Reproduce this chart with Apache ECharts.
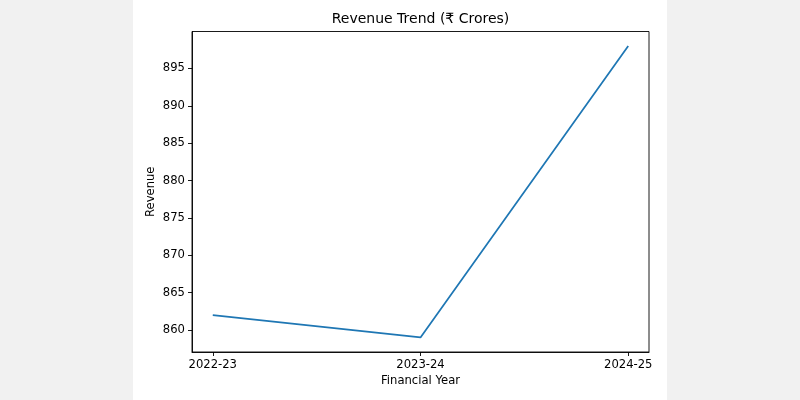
<!DOCTYPE html>
<html>
<head>
<meta charset="utf-8">
<script src="https://cdn.jsdelivr.net/npm/echarts@6/dist/echarts.min.js"></script>
<style>
    html, body { margin: 0; padding: 0; }
    #chart {
        width: 800px;
        height: 400px;
        background: linear-gradient(to right, #f1f1f1 133px, #ffffff 133px, #ffffff 667px, #f1f1f1 667px);
    }
</style>
</head>
<body>
<div id="chart"></div>
<script>
    var years = ['2022-23', '2023-24', '2024-25'];
    var revenue = [862, 859, 898];
    var yTicks = [860, 865, 870, 875, 880, 885, 890, 895];

    var font = 'DejaVu Sans';

    var points = revenue.map(function (v, i) {
        return [i, v];
    });

    var myChart = echarts.init(document.getElementById('chart'));
    myChart.setOption({
        backgroundColor: 'transparent',
        animation: false,
        title: {
            text: 'Revenue Trend (₹ Crores)',
            left: 420.5,
            textAlign: 'center',
            top: 12,
            padding: 0,
            textStyle: { fontFamily: font, fontSize: 14, fontWeight: 'normal', color: '#000' }
        },
        grid: { left: 192, right: 151, top: 31.5, bottom: 48, containLabel: false },
        xAxis: {
            type: 'value',
            min: -0.1,
            max: 2.1,
            name: 'Financial Year',
            nameLocation: 'middle',
            nameGap: 23,
            nameMoveOverlap: false,
            nameTextStyle: { fontFamily: font, fontSize: 11.6, color: '#000', verticalAlign: 'top' },
            axisLine: { show: true, onZero: false, lineStyle: { color: '#000', width: 0.9 } },
            axisTick: { show: true, inside: false, length: 4, customValues: [0, 1, 2], lineStyle: { color: '#000', width: 0.9 } },
            axisLabel: {
                customValues: [0, 1, 2],
                margin: 7,
                fontFamily: font, fontSize: 11.6, color: '#000',
                formatter: function (v) { return years[Math.round(v)]; }
            },
            splitLine: { show: false }
        },
        yAxis: {
            type: 'value',
            min: 857.05,
            max: 899.95,
            name: 'Revenue',
            nameLocation: 'middle',
            nameGap: 35,
            nameMoveOverlap: false,
            nameRotate: 90,
            nameTextStyle: { fontFamily: font, fontSize: 11.6, color: '#000' },
            axisLine: { show: true, onZero: false, lineStyle: { color: '#000', width: 0.9 } },
            axisTick: { show: true, inside: false, length: 4, customValues: yTicks, lineStyle: { color: '#000', width: 0.9 } },
            axisLabel: {
                customValues: yTicks,
                margin: 7,
                fontFamily: font, fontSize: 11.6, color: '#000'
            },
            splitLine: { show: false }
        },
        graphic: [{
            type: 'rect',
            shape: { x: 192, y: 31.5, width: 457, height: 320.5 },
            style: { fill: 'none', stroke: '#000', lineWidth: 0.9 },
            silent: true,
            z: 10
        }],
        series: [{
            type: 'line',
            data: points,
            symbol: 'none',
            lineStyle: { color: '#1f77b4', width: 1.75 },
            itemStyle: { color: '#1f77b4' }
        }]
    });
</script>
</body>
</html>
